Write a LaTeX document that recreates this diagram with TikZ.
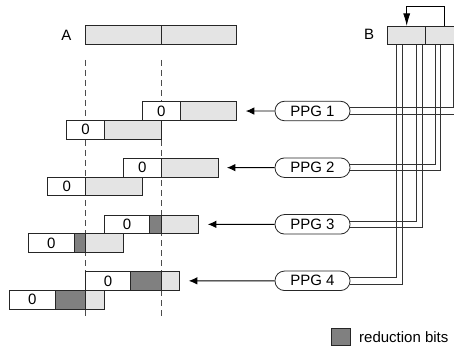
\documentclass[tikz,border=0pt]{standalone}
\usepackage{fontspec}
\setmainfont{Liberation Sans}
\usetikzlibrary{arrows.meta}
\definecolor{lightg}{HTML}{E4E4E4}
\definecolor{darkg}{HTML}{808080}
\tikzset{
  txt/.style={font=\fontsize{15}{15}\selectfont, inner sep=0pt},
  cell/.style={draw=black!85, line width=0.8pt, inner sep=0pt, outer sep=0pt,
    minimum height=18.7pt, txt},
  zcell/.style={cell, fill=white, minimum width=#1},
  gcell/.style={cell, fill=lightg, minimum width=#1},
  dcell/.style={cell, fill=darkg, minimum width=#1},
  guide/.style={draw=black!70, line width=0.8pt, dash pattern=on 6pt off 4pt},
  ppg/.style={draw=black!85, line width=0.8pt, rounded corners=9.5pt,
    minimum width=75pt, minimum height=19.5pt, inner sep=0pt, txt},
  wire/.style={draw=black!80, line width=0.8pt},
  arr/.style={draw=black, line width=0.9pt, -{Latex[length=8.5pt,width=7.5pt]}},
  looparr/.style={draw=black, line width=0.8pt, -{Latex[length=12.5pt,width=7pt]}},
}
\begin{document}
\begin{tikzpicture}[x=1pt, y=-1pt]
\useasboundingbox (0,0) rectangle (454,347);
\clip (0,0) rectangle (454,347);

% alignment guides
\draw[guide] (85.3,60) -- (85.3,317);
\draw[guide] (161,60) -- (161,317);

% register A
\node[txt] (labA) at (66.5,35) {A};
\node[gcell=75.7pt, anchor=north west] (A1) at (85.3,25.7) {};
\node[gcell=75.7pt, anchor=west] (A2) at (A1.east) {};

% partial products, row 1
\node[zcell=37.8pt, anchor=north west] (p1a) at (142.3,101.7) {0};
\node[gcell=56.7pt, anchor=west] (p1b) at (p1a.east) {};
\node[zcell=37.8pt, anchor=north west] (q1a) at (66.7,120.4) {0};
\node[gcell=56.7pt, anchor=west] (q1b) at (q1a.east) {};

% row 2
\node[zcell=37.8pt, anchor=north west] (p2a) at (123.4,158.3) {0};
\node[gcell=56.7pt, anchor=west] (p2b) at (p2a.east) {};
\node[zcell=37.8pt, anchor=north west] (q2a) at (47.8,177) {0};
\node[gcell=56.7pt, anchor=west] (q2b) at (q2a.east) {};

% row 3
\node[zcell=45.3pt, anchor=north west] (p3a) at (104.3,215) {0};
\node[dcell=11.4pt, anchor=west] (p3b) at (p3a.east) {};
\node[gcell=37.8pt, anchor=west] (p3c) at (p3b.east) {};
\node[zcell=45.3pt, anchor=north west] (q3a) at (28.7,233.7) {0};
\node[dcell=11.4pt, anchor=west] (q3b) at (q3a.east) {};
\node[gcell=37.8pt, anchor=west] (q3c) at (q3b.east) {};

% row 4
\node[zcell=45.3pt, anchor=north west] (p4a) at (85.3,271.5) {0};
\node[dcell=30.4pt, anchor=west] (p4b) at (p4a.east) {};
\node[gcell=18.8pt, anchor=west] (p4c) at (p4b.east) {};
\node[zcell=45.3pt, anchor=north west] (q4a) at (9.7,290.2) {0};
\node[dcell=30.4pt, anchor=west] (q4b) at (q4a.east) {};
\node[gcell=18.8pt, anchor=west] (q4c) at (q4b.east) {};

% register B with feedback
\node[txt] (labB) at (369.2,34.5) {B};
\node[gcell=38pt, anchor=north west] (B1) at (387.7,26) {};
\node[gcell=38pt, anchor=west] (B2) at (B1.east) {};
\draw[looparr] (B2.north) -- ++(0,-19.3) -| (B1.north);

% partial product generators
\node[ppg] (ppg1) at (312.5,111) {PPG 1};
\node[ppg] (ppg2) at (312.5,167.7) {PPG 2};
\node[ppg] (ppg3) at (312.5,224.3) {PPG 3};
\node[ppg] (ppg4) at (312.5,280.8) {PPG 4};

\draw[arr] (ppg1.west) -- ([xshift=9pt]p1b.east);
\draw[arr] (ppg2.west) -- ([xshift=9pt]p2b.east);
\draw[arr] (ppg3.west) -- ([xshift=9pt]p3c.east);
\draw[arr] (ppg4.west) -- ([xshift=9pt]p4c.east);

% bit lines from B to the generators
\draw[wire] ([yshift=3.5pt]ppg1.east) -| ([xshift=66pt]B1.south west);
\draw[wire] ([yshift=-3.5pt]ppg1.east) -| ([xshift=71.5pt]B1.south west);
\draw[wire] ([yshift=3.2pt]ppg2.east) -| ([xshift=47.6pt]B1.south west);
\draw[wire] ([yshift=-3.2pt]ppg2.east) -| ([xshift=53pt]B1.south west);
\draw[wire] ([yshift=3.4pt]ppg3.east) -| ([xshift=28.2pt]B1.south west);
\draw[wire] ([yshift=-3.4pt]ppg3.east) -| ([xshift=34.5pt]B1.south west);
\draw[wire] ([yshift=3.2pt]ppg4.east) -| ([xshift=8.8pt]B1.south west);
\draw[wire] ([yshift=-3.2pt]ppg4.east) -| ([xshift=15pt]B1.south west);

% legend
\node[dcell=19pt, minimum height=17.5pt] (legbox) at (340.5,337) {};
\node[txt, anchor=west] (legtxt) at (359,337) {reduction bits};
\end{tikzpicture}
\end{document}
